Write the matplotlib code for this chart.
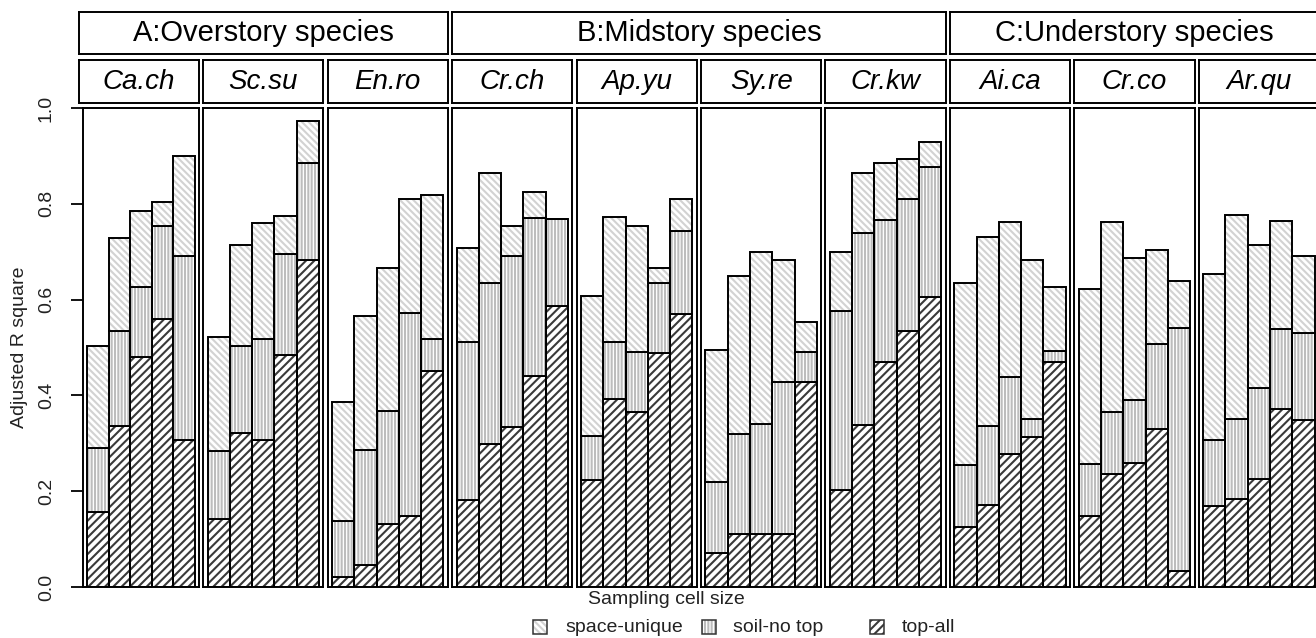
import numpy as np
import matplotlib
matplotlib.use("Agg")
import matplotlib.pyplot as plt
from matplotlib.patches import Rectangle

plt.rcParams['font.family'] = ['Liberation Sans', 'DejaVu Sans']
plt.rcParams['hatch.linewidth'] = 1.5

# Daten (kumulative Grenzen der gestapelten Balken)
groups = ["A:Overstory species", "B:Midstory species", "C:Understory species"]
group_sizes = [3, 4, 3]
species = ["Ca.ch", "Sc.su", "En.ro", "Cr.ch", "Ap.yu", "Sy.re", "Cr.kw",
           "Ai.ca", "Cr.co", "Ar.qu"]
legend_labels = ["space-unique", "soil-no top", "top-all"]

top_all = [
    [0.157, 0.337, 0.481, 0.559, 0.306],
    [0.142, 0.321, 0.306, 0.484, 0.683],
    [0.020, 0.046, 0.132, 0.148, 0.451],
    [0.182, 0.298, 0.333, 0.441, 0.587],
    [0.223, 0.392, 0.366, 0.488, 0.569],
    [0.072, 0.110, 0.110, 0.110, 0.429],
    [0.203, 0.338, 0.469, 0.534, 0.606],
    [0.125, 0.171, 0.278, 0.314, 0.470],
    [0.148, 0.236, 0.259, 0.329, 0.034],
    [0.170, 0.183, 0.225, 0.372, 0.349],
]
top_plus_soil = [
    [0.291, 0.535, 0.626, 0.754, 0.690],
    [0.283, 0.504, 0.518, 0.695, 0.885],
    [0.138, 0.285, 0.367, 0.571, 0.517],
    [0.511, 0.634, 0.691, 0.771, 0.768],
    [0.316, 0.512, 0.490, 0.634, 0.743],
    [0.219, 0.319, 0.340, 0.429, 0.490],
    [0.577, 0.738, 0.766, 0.809, 0.876],
    [0.255, 0.336, 0.438, 0.351, 0.493],
    [0.257, 0.366, 0.390, 0.507, 0.540],
    [0.307, 0.351, 0.415, 0.538, 0.531],
]
total = [
    [0.504, 0.729, 0.786, 0.803, 0.900],
    [0.521, 0.713, 0.759, 0.775, 0.973],
    [0.386, 0.565, 0.666, 0.811, 0.818],
    [0.707, 0.864, 0.753, 0.825, 0.768],
    [0.608, 0.773, 0.753, 0.665, 0.809],
    [0.495, 0.650, 0.699, 0.683, 0.554],
    [0.699, 0.864, 0.885, 0.893, 0.928],
    [0.635, 0.731, 0.761, 0.683, 0.626],
    [0.623, 0.762, 0.686, 0.704, 0.639],
    [0.653, 0.777, 0.715, 0.765, 0.691],
]

# Stil der drei Komponenten: (Schraffur, Farbe der Schraffur)
styles = {
    "space-unique": ("\\\\\\\\\\", "#d2d2d2"),
    "soil-no top": ("|||||", "#bcbcbc"),
    "top-all": ("////", "#3a3a3a"),
}

W, H = 1316, 638
fig = plt.figure(figsize=(W / 100, H / 100), dpi=100)


def px_axes(x0, y0, x1, y1):
    # Pixelkoordinaten (oben links = 0,0) -> Figurenkoordinaten
    return fig.add_axes([x0 / W, 1 - y1 / H, (x1 - x0) / W, (y1 - y0) / H])


def frame(ax, lw=1.4):
    ax.set_xticks([])
    ax.set_yticks([])
    for s in ax.spines.values():
        s.set_linewidth(lw)
        s.set_color("black")


pitch = 124.45
pw = 120.3
first_left = 78.7
panel_top, panel_bot = 108.0, 587.0
sp_top, sp_bot = 60.0, 103.3
gr_top, gr_bot = 11.7, 54.3

x = np.arange(5) + 0.5
lefts = [first_left + i * pitch for i in range(len(species))]

for i, name in enumerate(species):
    l = lefts[i]
    pl = 82.7 if i == 0 else l
    ax = px_axes(pl, panel_top, l + pw, panel_bot)
    ax.set_xlim(-0.2, 5.2)
    ax.set_ylim(0, 1)
    frame(ax)

    ta = np.array(top_all[i])
    ts = np.array(top_plus_soil[i])
    tt = np.array(total[i])
    layers = [("top-all", 0, ta), ("soil-no top", ta, ts - ta),
              ("space-unique", ts, tt - ts)]
    for lab, bottom, height in layers:
        hatch, hc = styles[lab]
        ax.bar(x, height, bottom=bottom, width=1, color="white",
               edgecolor=hc, hatch=hatch, linewidth=0)
        ax.bar(x, height, bottom=bottom, width=1, fill=False,
               edgecolor="black", linewidth=1.4)

    if i == 0:
        ax.set_yticks([0, 0.2, 0.4, 0.6, 0.8, 1.0])
        ax.set_yticklabels(["0.0", "0.2", "0.4", "0.6", "0.8", "1.0"],
                           rotation=90, va="center", fontsize=14, color="#222222")
        ax.tick_params(axis="y", length=9, width=1.3, pad=11)

    # Artenstreifen
    sx = px_axes(l, sp_top, l + pw, sp_bot)
    frame(sx)
    sx.text(0.5, 0.5, name, ha="center", va="center", fontsize=20,
            style="italic", transform=sx.transAxes)

# Gruppenstreifen
start = 0
for g, n in zip(groups, group_sizes):
    gx = px_axes(lefts[start], gr_top, lefts[start + n - 1] + pw, gr_bot)
    frame(gx)
    gx.text(0.5, 0.5, g, ha="center", va="center", fontsize=21,
            transform=gx.transAxes)
    start += n

fig.text(20 / W, 1 - 347 / H, "Adjusted R square", rotation=90,
         ha="center", va="center", fontsize=14, color="#222222")
fig.text(666 / W, 1 - 600 / H, "Sampling cell size", ha="center",
         va="center", fontsize=14, color="#222222")

# Legende (von Hand platziert)
leg_box_x = [533, 702, 870]
leg_txt_x = [565, 733, 902]
for bx, tx, lab in zip(leg_box_x, leg_txt_x, legend_labels):
    hatch, hc = styles[lab]
    box = [bx / W, 1 - 633.5 / H]
    fig.add_artist(Rectangle(box, 14 / W, 13.5 / H, transform=fig.transFigure,
                             facecolor="white", edgecolor=hc, hatch=hatch, lw=0))
    fig.add_artist(Rectangle(box, 14 / W, 13.5 / H, transform=fig.transFigure,
                             fill=False, edgecolor="#333333", lw=1.1))
    fig.text(tx / W, 1 - 627 / H, lab, ha="left", va="center", fontsize=14,
             color="#222222")

fig.savefig("out.png", dpi=100)
